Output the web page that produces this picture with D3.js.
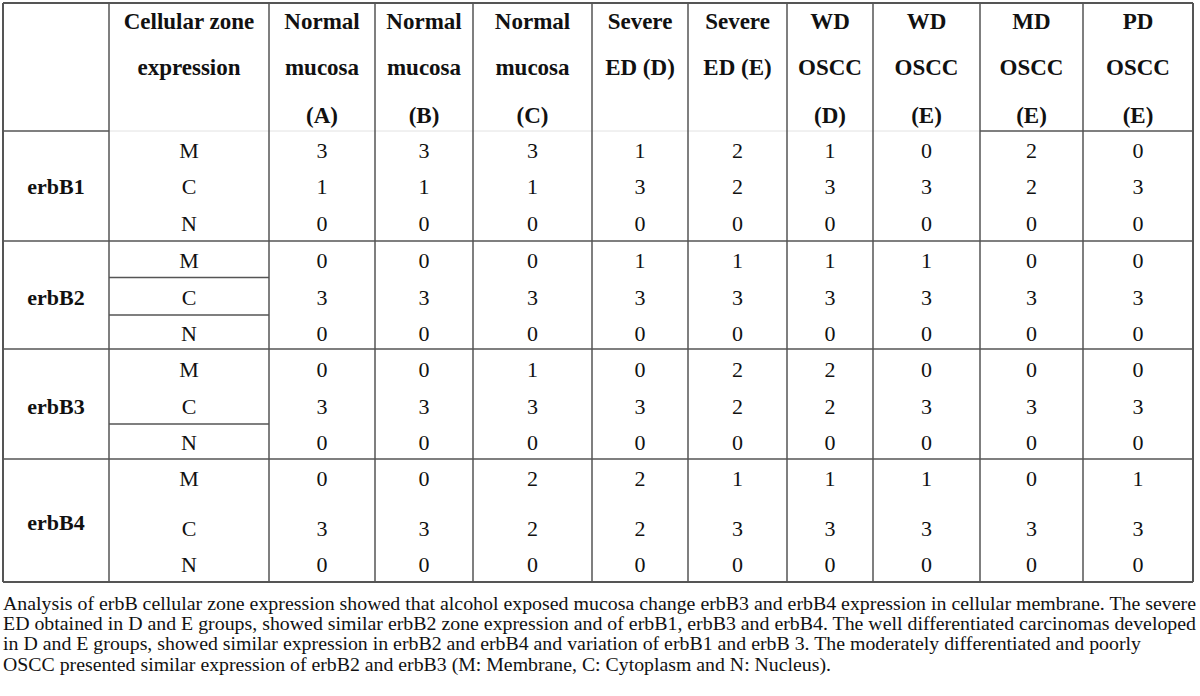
<!DOCTYPE html>
<html>
<head>
<meta charset="utf-8">
<script src="https://cdn.jsdelivr.net/npm/d3@7"></script>
<style>
  html, body { margin: 0; padding: 0; background: #fff; }
  svg { display: block; }
</style>
</head>
<body>
<div id="table"></div>
<script>
// Column headers (each entry = lines of the header cell)
const headers = [
    [],
    ["Cellular zone", "expression"],
    ["Normal", "mucosa", "(A)"],
    ["Normal", "mucosa", "(B)"],
    ["Normal", "mucosa", "(C)"],
    ["Severe", "ED (D)"],
    ["Severe", "ED (E)"],
    ["WD", "OSCC", "(D)"],
    ["WD", "OSCC", "(E)"],
    ["MD", "OSCC", "(E)"],
    ["PD", "OSCC", "(E)"]
];

const genes = ["erbB1", "erbB2", "erbB3", "erbB4"];
const zones = ["M", "C", "N"];

// values per zone (M, C, N) across the 9 groups
const erbB1 = [[3, 3, 3, 1, 2, 1, 0, 2, 0], [1, 1, 1, 3, 2, 3, 3, 2, 3], [0, 0, 0, 0, 0, 0, 0, 0, 0]];
const erbB2 = [[0, 0, 0, 1, 1, 1, 1, 0, 0], [3, 3, 3, 3, 3, 3, 3, 3, 3], [0, 0, 0, 0, 0, 0, 0, 0, 0]];
const erbB3 = [[0, 0, 1, 0, 2, 2, 0, 0, 0], [3, 3, 3, 3, 2, 2, 3, 3, 3], [0, 0, 0, 0, 0, 0, 0, 0, 0]];
const erbB4 = [[0, 0, 2, 2, 1, 1, 1, 0, 1], [3, 3, 2, 2, 3, 3, 3, 3, 3], [0, 0, 0, 0, 0, 0, 0, 0, 0]];
const values = [erbB1, erbB2, erbB3, erbB4];

const footnote = [
    "Analysis of erbB cellular zone expression showed that alcohol exposed mucosa change erbB3 and erbB4 expression in cellular membrane. The severe",
    "ED obtained in D and E groups, showed similar erbB2 zone expression and of erbB1, erbB3 and erbB4. The well differentiated carcinomas developed",
    "in D and E groups, showed similar expression in erbB2 and erbB4 and variation of erbB1 and erbB 3. The moderately differentiated and poorly",
    "OSCC presented similar expression of erbB2 and erbB3 (M: Membrane, C: Cytoplasm and N: Nucleus)."
];

// layout
const W = 1200, H = 696;
const colEdges = [3, 109, 269, 375, 473, 592, 688, 787, 873, 980, 1083, 1193];
const rowCenters = [150, 186, 223, 260, 297, 333, 369, 406, 442, 478, 528, 564];
const groupEdges = [131, 241, 349, 459, 582];
const tableTop = 3;
const lineColor = "#555";
const font = "'Liberation Serif', 'Times New Roman', serif";

// piecewise scales: column index -> x, row index -> y
const x = d3.scaleLinear().domain(d3.range(colEdges.length)).range(colEdges);
const y = d3.scaleLinear().domain(d3.range(rowCenters.length)).range(rowCenters);
const colCenter = i => x(i + 0.5);

const svg = d3.select("#table").append("svg")
    .attr("width", W)
    .attr("height", H)
    .style("font-family", font);

const grid = svg.append("g").attr("fill", "none");

// faint header separator under the data columns
grid.append("line")
    .attr("x1", x(1)).attr("x2", x(9))
    .attr("y1", groupEdges[0]).attr("y2", groupEdges[0])
    .attr("stroke", "#e2e2e2").attr("stroke-width", 1);

// header separator, dark only on first column and MD / PD columns
grid.append("line")
    .attr("x1", x(0)).attr("x2", x(1))
    .attr("y1", groupEdges[0]).attr("y2", groupEdges[0])
    .attr("stroke", lineColor).attr("stroke-width", 1.5);
grid.append("line")
    .attr("x1", x(9)).attr("x2", x(11))
    .attr("y1", groupEdges[0]).attr("y2", groupEdges[0])
    .attr("stroke", lineColor).attr("stroke-width", 1.5);

// top, group separators, bottom
grid.selectAll("line.group")
    .data([tableTop].concat(groupEdges.slice(1)))
    .join("line")
    .attr("class", "group")
    .attr("x1", x(0)).attr("x2", x(11))
    .attr("y1", d => d).attr("y2", d => d)
    .attr("stroke", lineColor)
    .attr("stroke-width", (d, i) => i === 0 || i === 4 ? 2 : 1.5);

// inner zone separators (only in the zone column): erbB2 rows and erbB3 N row
const innerLines = [
    (y(3) + y(4)) / 2 - 1,
    (y(4) + y(5)) / 2,
    (y(7) + y(8)) / 2
];
grid.selectAll("line.inner")
    .data(innerLines)
    .join("line")
    .attr("class", "inner")
    .attr("x1", x(1)).attr("x2", x(2))
    .attr("y1", d => d).attr("y2", d => d)
    .attr("stroke", lineColor).attr("stroke-width", 1.5);

// vertical lines
grid.selectAll("line.col")
    .data(colEdges)
    .join("line")
    .attr("class", "col")
    .attr("x1", d => d).attr("x2", d => d)
    .attr("y1", tableTop).attr("y2", groupEdges[4])
    .attr("stroke", lineColor)
    .attr("stroke-width", (d, i) => i === 0 || i === colEdges.length - 1 ? 2 : 1.5);

// header text
const headerBaselines = [29, 75, 123];
const head = svg.append("g")
    .attr("font-size", 23)
    .attr("font-weight", "bold")
    .attr("fill", "#111")
    .attr("text-anchor", "middle");
headers.forEach((lines, ci) => {
    lines.forEach((t, li) => {
        head.append("text")
            .attr("x", colCenter(ci))
            .attr("y", headerBaselines[li])
            .text(t);
    });
});

// body
const body = svg.append("g")
    .attr("font-size", 22)
    .attr("fill", "#111")
    .attr("text-anchor", "middle");

genes.forEach((gene, gi) => {
    const r0 = gi * 3;
    body.append("text")
        .attr("x", colCenter(0))
        .attr("y", gi === 3 ? y(r0) + 44 : y(r0 + 1))
        .attr("dy", "0.35em")
        .attr("font-weight", "bold")
        .text(gene);

    zones.forEach((z, zi) => {
        const r = r0 + zi;
        body.append("text")
            .attr("x", colCenter(1))
            .attr("y", y(r))
            .attr("dy", "0.35em")
            .text(z);

        body.selectAll(null)
            .data(values[gi][zi])
            .join("text")
            .attr("x", (d, i) => colCenter(i + 2))
            .attr("y", y(r))
            .attr("dy", "0.35em")
            .text(d => d);
    });
});

// footnote
const noteBaselines = [610, 630, 650, 671];
const noteLengths = [1193, 1193, 1138, 828];
svg.append("g")
    .attr("font-size", 18.5)
    .attr("fill", "#111")
    .selectAll("text")
    .data(footnote)
    .join("text")
    .attr("x", 3)
    .attr("y", (d, i) => noteBaselines[i])
    .attr("textLength", (d, i) => noteLengths[i])
    .attr("lengthAdjust", "spacingAndGlyphs")
    .text(d => d);
</script>
</body>
</html>
